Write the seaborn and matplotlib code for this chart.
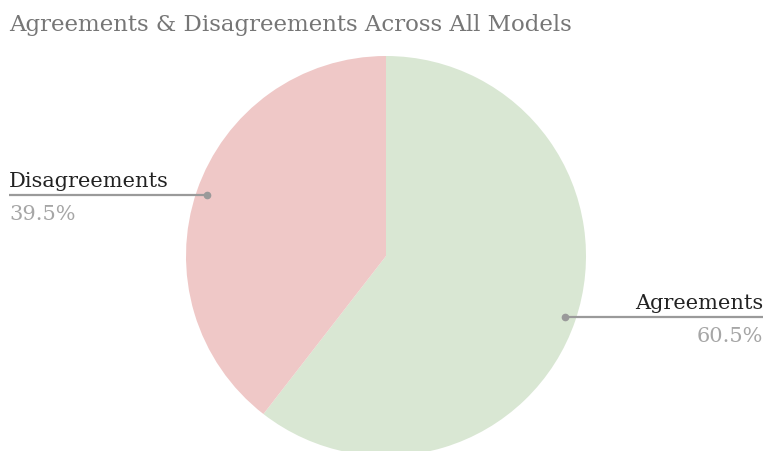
import numpy as np
import matplotlib
matplotlib.use("Agg")
import matplotlib.pyplot as plt
import seaborn as sns

labels = ["Agreements", "Disagreements"]
values = [60.5, 39.5]
colors = ["#d9e7d3", "#efc8c7"]
title = "Agreements & Disagreements Across All Models"

sns.set_theme(style="white")
plt.rcParams['font.family'] = ['DejaVu Serif']

W, H = 768, 452
fig = plt.figure(figsize=(W / 100, H / 100), dpi=100)
cx, cy, R = 386, 257, 200
ax = fig.add_axes([(cx - R) / W, 1 - (cy + R) / H, 2 * R / W, 2 * R / H])

wedges, _ = ax.pie(values, colors=colors, startangle=90, counterclock=False,
                   wedgeprops=dict(linewidth=0), radius=1)
for w in wedges:
    w.set_clip_on(False)
ax.set_aspect('auto')
ax.set_xlim(-1, 1)
ax.set_ylim(-1, 1)
ax.axis('off')

total = sum(values)
start = 90.0
line_end = 1.885
for lab, v in zip(labels, values):
    mid = start - v / total * 360 / 2
    start -= v / total * 360
    a = np.deg2rad(mid)
    px, py = 0.945 * np.cos(a), 0.945 * np.sin(a)
    side = 1 if px > 0 else -1
    xe = side * line_end
    ax.plot([px, xe], [py, py], color="#9a9a9a", lw=1.6, clip_on=False,
            solid_capstyle='butt')
    ax.plot([px], [py], 'o', color="#9a9a9a", ms=4.5, clip_on=False)
    ha = 'right' if side > 0 else 'left'
    ax.text(xe, py + 0.025, lab, ha=ha, va='bottom', fontsize=15,
            color="#222222", clip_on=False)
    ax.text(xe, py - 0.045, f"{v:.1f}%", ha=ha, va='top', fontsize=15,
            color="#a6a6a6", clip_on=False)

fig.text(9 / W, 1 - 25 / H, title, ha='left', va='center', fontsize=16.5,
         color="#767676")

fig.savefig("out.png", dpi=100)
